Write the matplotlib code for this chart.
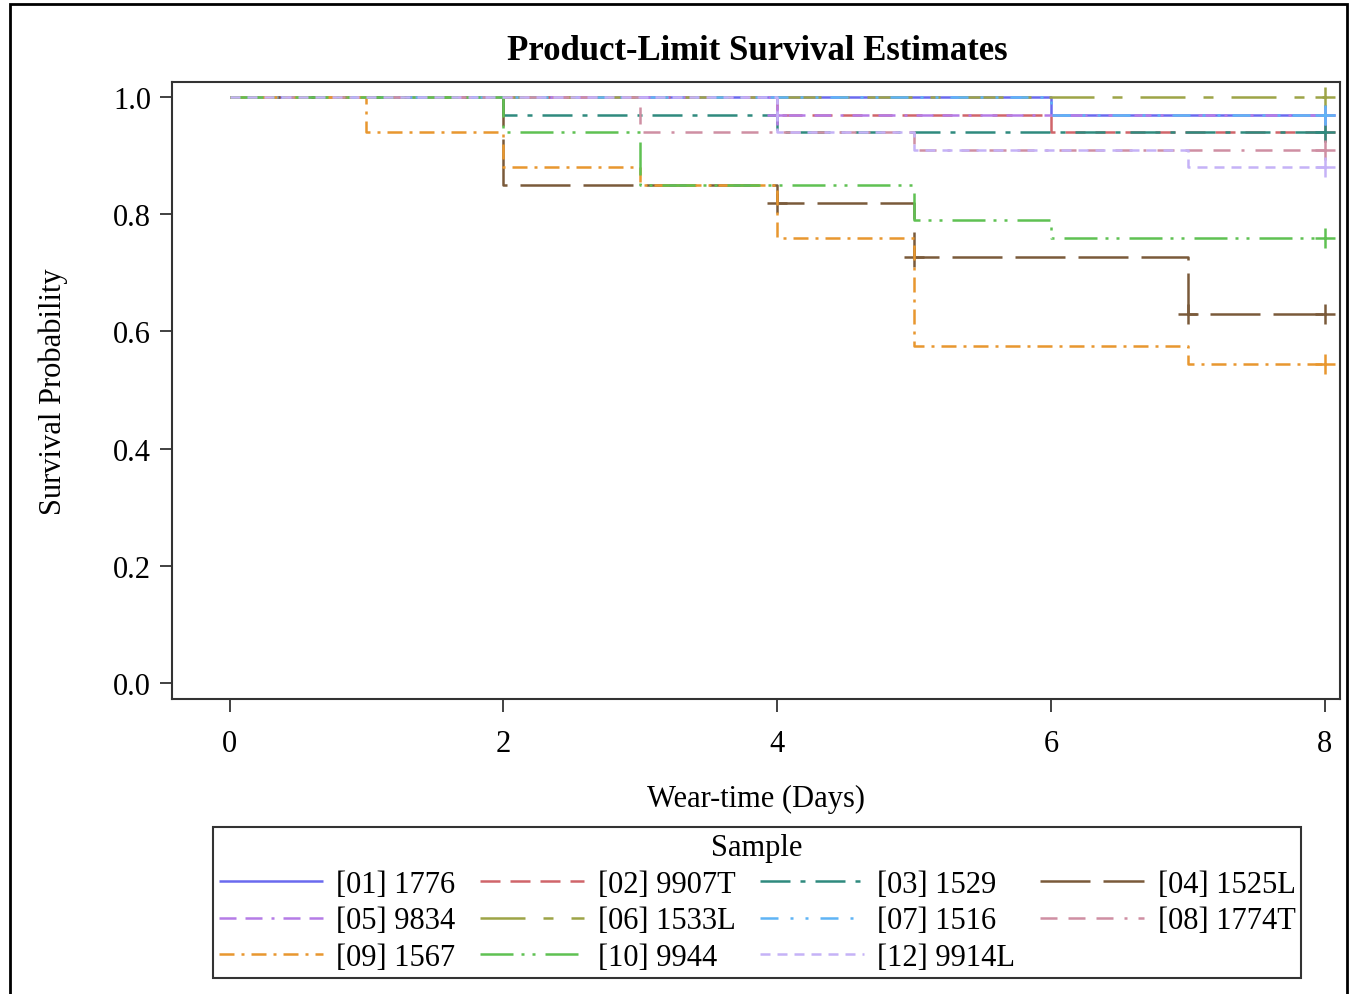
"""Product-limit (Kaplan-Meier) survival estimates per sample"""

import matplotlib

matplotlib.use("Agg")
import matplotlib.pyplot as plt
from matplotlib.lines import Line2D
from matplotlib.patches import Rectangle

plt.rcParams["font.family"] = ["Liberation Serif", "DejaVu Serif"]
plt.rcParams["lines.scale_dashes"] = False

# sample labels (legend order)
samples = [
    "[01] 1776", "[02] 9907T", "[03] 1529", "[04] 1525L",
    "[05] 9834", "[06] 1533L", "[07] 1516", "[08] 1774T",
    "[09] 1567", "[10] 9944", "[12] 9914L",
]

# step times (days) and survival after each step, last point carried to day 8
times = [
    [0, 6, 8],
    [0, 4, 6, 8],
    [0, 2, 4, 8],
    [0, 2, 4, 5, 7, 8],
    [0, 4, 8],
    [0, 8],
    [0, 6, 8],
    [0, 3, 5, 8],
    [0, 1, 2, 3, 4, 5, 7, 8],
    [0, 2, 3, 5, 6, 8],
    [0, 4, 5, 7, 8],
]
survival = [
    [1.0, 0.97, 0.97],
    [1.0, 0.97, 0.94, 0.94],
    [1.0, 0.97, 0.94, 0.94],
    [1.0, 0.85, 0.82, 0.727, 0.63, 0.63],
    [1.0, 0.97, 0.97],
    [1.0, 1.0],
    [1.0, 0.97, 0.97],
    [1.0, 0.94, 0.91, 0.91],
    [1.0, 0.94, 0.88, 0.85, 0.76, 0.576, 0.545, 0.545],
    [1.0, 0.94, 0.85, 0.79, 0.76, 0.76],
    [1.0, 0.94, 0.91, 0.88, 0.88],
]
# censored observations (days)
censored = [
    [8], [8], [8], [4, 5, 7, 8], [4, 8], [8], [8], [8], [8], [8], [8],
]

colors = [
    "#6a6aef", "#d0656a", "#2f8a7e", "#7a5a3a", "#b57ce6", "#9da447",
    "#5fb4f5", "#cf8fa3", "#e8972f", "#5fc152", "#c5b2f7",
]
px = 0.72  # points per pixel at dpi 100
dashes = [
    (0, ()),
    (0, tuple(d * px for d in (20, 10))),
    (0, tuple(d * px for d in (30, 10, 5, 10))),
    (0, tuple(d * px for d in (50, 13))),
    (0, tuple(d * px for d in (17, 9, 17, 9, 3, 9))),
    (0, tuple(d * px for d in (45, 18, 10, 18))),
    (0, tuple(d * px for d in (18, 12, 3, 12, 3, 12))),
    (0, tuple(d * px for d in (17, 11, 17, 11, 17, 11, 3, 11))),
    (0, tuple(d * px for d in (15, 7, 3, 7))),
    (0, tuple(d * px for d in (33, 8, 3, 8, 3, 10))),
    (0, tuple(d * px for d in (10, 7))),
]


def value_at(t, s, x):
    v = s[0]
    for ti, si in zip(t, s):
        if ti <= x:
            v = si
    return v


fig = plt.figure(figsize=(13.51, 9.95), dpi=100)
ax = fig.add_axes([172 / 1351, 1 - 700 / 995, 1168 / 1351, 617 / 995])

handles = []
for i, name in enumerate(samples):
    t, s = times[i], survival[i]
    ax.step(t, s, where="post", color=colors[i], lw=1.8, linestyle=dashes[i])
    cx = censored[i]
    cy = [value_at(t, s, x) for x in cx]
    ax.plot(cx, cy, linestyle="none", marker="+", ms=14, mew=1.8, color=colors[i])
    handles.append(Line2D([], [], color=colors[i], lw=1.8, linestyle=dashes[i]))

ax.set_xlim(-0.42, 8.11)
ax.set_ylim(-0.027, 1.0256)
ax.set_xticks([0, 2, 4, 6, 8])
ax.set_yticks([0.0, 0.2, 0.4, 0.6, 0.8, 1.0])
ax.set_yticklabels(["0.0", "0.2", "0.4", "0.6", "0.8", "1.0"])
ax.tick_params(labelsize=22, length=9, width=1.3, color="#333333")
ax.tick_params(axis="x", pad=12.5)
ax.tick_params(axis="y", pad=6)
for sp in ax.spines.values():
    sp.set_color("#333333")
    sp.set_linewidth(1.5)

ax.set_xlabel("Wear-time (Days)", fontsize=22)
ax.xaxis.set_label_coords(0.5, -0.138)
ax.set_ylabel("Survival Probability", fontsize=22)
ax.yaxis.set_label_coords(-0.089, 0.5)

fig.text(757 / 1351, 1 - 52 / 995, "Product-Limit Survival Estimates",
         fontsize=25, fontweight="bold", ha="center", va="center")

# legend is filled column-wise, so reorder to read row-wise
order = [0, 4, 8, 1, 5, 9, 2, 6, 10, 3, 7]
leg = fig.legend(
    [handles[k] for k in order], [samples[k] for k in order],
    title="Sample", ncol=4, loc="upper center",
    bbox_to_anchor=(757 / 1351, 1 - 828 / 995), borderaxespad=0,
    fontsize=22, title_fontsize=22, frameon=True, fancybox=False,
    handlelength=3.4, handletextpad=0.45, columnspacing=0.8,
    labelspacing=0.25, borderpad=0.2,
)
leg.get_frame().set_edgecolor("black")
leg.get_frame().set_linewidth(1.5)

# outer border around the graph
fig.patches.append(Rectangle((10 / 1351, -0.01), 1337 / 1351, 1 - 5 / 995 + 0.01,
                             transform=fig.transFigure, fill=False,
                             edgecolor="black", lw=2))

fig.savefig("out.png", dpi=100)
